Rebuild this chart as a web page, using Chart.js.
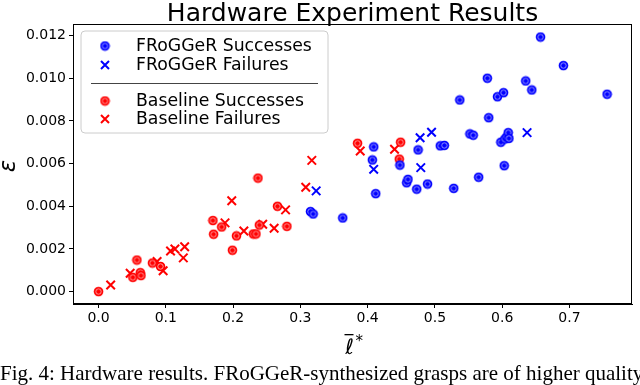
<!DOCTYPE html>
<html>
<head>
<meta charset="utf-8">
<script src="https://cdn.jsdelivr.net/npm/chart.js@4.4.0/dist/chart.umd.min.js"></script>
<style>
  html, body { margin: 0; padding: 0; background: #fff; }
  #wrap { position: relative; width: 640px; height: 385px; overflow: hidden; }
  #caption {
    position: absolute; left: 0; top: 363px; white-space: nowrap; line-height: 21px;
    font-family: "Liberation Serif", serif; font-size: 21px; color: #000;
  }
</style>
</head>
<body>
<div id="wrap">
  <canvas id="chart" width="640" height="385"></canvas>
  <div id="caption">Fig. 4: Hardware results. FRoGGeR-synthesized grasps are of higher quality</div>
</div>
<script>
// values
const xTicks = [0.0, 0.1, 0.2, 0.3, 0.4, 0.5, 0.6, 0.7];
const yTicks = [0.000, 0.002, 0.004, 0.006, 0.008, 0.010, 0.012];

const froggerSuccessX = [0.315, 0.319, 0.363, 0.407, 0.409, 0.412, 0.448, 0.458, 0.460, 0.473, 0.475, 0.489,
  0.508, 0.514, 0.528, 0.537, 0.552, 0.557, 0.565, 0.578, 0.580, 0.593, 0.598, 0.602, 0.603, 0.604,
  0.607, 0.609, 0.610, 0.635, 0.644, 0.657, 0.691, 0.756];
const froggerSuccessY = [0.00375, 0.00364, 0.00345, 0.00617, 0.00678, 0.00459, 0.00593, 0.0051, 0.00526, 0.0048, 0.00664, 0.00504,
  0.00683, 0.00685, 0.00484, 0.00898, 0.00739, 0.00733, 0.00536, 0.0100, 0.00815, 0.00913, 0.0070, 0.00932, 0.0059, 0.00715,
  0.00726, 0.00745, 0.00718, 0.00987, 0.00945, 0.01193, 0.01059, 0.00925];

const froggerFailX = [0.3235, 0.409, 0.478, 0.479, 0.495, 0.637];
const froggerFailY = [0.00472, 0.00573, 0.00721, 0.00581, 0.00747, 0.00745];

const baselineSuccessX = [0.0, 0.051, 0.062, 0.063, 0.057, 0.080, 0.092, 0.170, 0.171, 0.183, 0.199, 0.205,
  0.230, 0.234, 0.237, 0.239, 0.266, 0.280, 0.385, 0.447, 0.449];
const baselineSuccessY = [0.0, 0.00067, 0.00089, 0.00075, 0.00148, 0.00134, 0.00118, 0.00333, 0.00269, 0.00303, 0.00194, 0.00261,
  0.0027, 0.0027, 0.00532, 0.00312, 0.0040, 0.00306, 0.00695, 0.00621, 0.0070];

const baselineFailX = [0.018, 0.047, 0.087, 0.096, 0.107, 0.1135, 0.126, 0.128, 0.188, 0.198, 0.216, 0.244,
  0.261, 0.278, 0.308, 0.317, 0.389, 0.440];
const baselineFailY = [0.00031, 0.00086, 0.00141, 0.00098, 0.0019, 0.0020, 0.00158, 0.0021, 0.00322, 0.00426, 0.00284, 0.00316,
  0.00297, 0.00383, 0.00489, 0.00615, 0.00659, 0.00667];

function pts(xs, ys) {
  return xs.map((x, i) => ({ x: x, y: ys[i] }));
}

// round marker with a lighter ring, like the original
function makeDot(color, ring) {
  const c = document.createElement('canvas');
  c.width = 11; c.height = 11;
  const g = c.getContext('2d');
  g.fillStyle = color;
  g.beginPath(); g.arc(5.5, 5.5, 4.8, 0, Math.PI * 2); g.fill();
  g.strokeStyle = ring; g.lineWidth = 0.9;
  g.beginPath(); g.arc(5.5, 5.5, 2.7, 0, Math.PI * 2); g.stroke();
  return c;
}
const blueDot = makeDot('#0000ff', 'rgba(170,170,255,0.95)');
const redDot = makeDot('#ff0000', 'rgba(255,175,175,0.95)');

const FONT = '"DejaVu Sans", sans-serif';

const extras = {
  id: 'extras',
  afterDraw(chart) {
    const ctx = chart.ctx;
    const a = chart.chartArea;
    ctx.save();
    // top and right spines
    ctx.strokeStyle = '#000';
    ctx.lineWidth = 1;
    ctx.strokeRect(a.left + 0.5, a.top + 0.5, a.right - a.left - 1, a.bottom - a.top - 1);

    // title
    ctx.fillStyle = '#000';
    ctx.font = '25px ' + FONT;
    ctx.textAlign = 'center';
    ctx.textBaseline = 'alphabetic';
    ctx.fillText('Hardware Experiment Results', (a.left + a.right) / 2, 21);

    // x label
    const cx = (a.left + a.right) / 2;
    ctx.font = 'italic 21px ' + FONT;
    ctx.textAlign = 'center';
    ctx.fillText('\u2113', cx - 3, 354);
    ctx.fillRect(cx - 8, 334, 9, 1.3);
    ctx.font = '15px ' + FONT;
    ctx.textAlign = 'left';
    ctx.fillText('*', cx + 3, 346);

    // y label
    ctx.save();
    ctx.translate(15, 166);
    ctx.rotate(-Math.PI / 2);
    ctx.font = 'italic 23px ' + FONT;
    ctx.textAlign = 'center';
    ctx.fillText('\u03b5', 0, 0);
    ctx.restore();

    // legend
    const bx = 81, by = 31, bw = 247, bh = 102, r = 4;
    ctx.beginPath();
    ctx.moveTo(bx + r, by);
    ctx.arcTo(bx + bw, by, bx + bw, by + bh, r);
    ctx.arcTo(bx + bw, by + bh, bx, by + bh, r);
    ctx.arcTo(bx, by + bh, bx, by, r);
    ctx.arcTo(bx, by, bx + bw, by, r);
    ctx.closePath();
    ctx.fillStyle = 'rgba(255,255,255,0.8)';
    ctx.fill();
    ctx.strokeStyle = '#cccccc';
    ctx.lineWidth = 1;
    ctx.stroke();

    const rows = [
      { y: 46, kind: 'dot', img: blueDot, color: '#0000ff', text: 'FRoGGeR Successes' },
      { y: 65, kind: 'x', color: '#0000ff', text: 'FRoGGeR Failures' },
      { y: 101, kind: 'dot', img: redDot, color: '#ff0000', text: 'Baseline Successes' },
      { y: 119, kind: 'x', color: '#ff0000', text: 'Baseline Failures' }
    ];
    rows.forEach(row => {
      if (row.kind === 'dot') {
        ctx.drawImage(row.img, 105 - 5.5, row.y - 5.5);
      } else {
        ctx.strokeStyle = row.color;
        ctx.lineWidth = 2;
        ctx.beginPath();
        ctx.moveTo(101, row.y - 4); ctx.lineTo(109, row.y + 4);
        ctx.moveTo(101, row.y + 4); ctx.lineTo(109, row.y - 4);
        ctx.stroke();
      }
      ctx.fillStyle = '#000';
      ctx.font = '17.3px ' + FONT;
      ctx.textAlign = 'left';
      ctx.textBaseline = 'middle';
      ctx.fillText(row.text, 136, row.y + 1);
    });
    ctx.strokeStyle = '#444';
    ctx.lineWidth = 1;
    ctx.beginPath();
    ctx.moveTo(91, 83.5); ctx.lineTo(318, 83.5);
    ctx.stroke();
    ctx.restore();
  }
};

const ctx = document.getElementById('chart').getContext('2d');
new Chart(ctx, {
  type: 'scatter',
  data: {
    datasets: [
      { label: 'FRoGGeR Successes', data: pts(froggerSuccessX, froggerSuccessY), pointStyle: blueDot },
      { label: 'FRoGGeR Failures', data: pts(froggerFailX, froggerFailY), pointStyle: 'crossRot',
        pointRadius: 6, borderColor: '#0000ff', borderWidth: 2 },
      { label: 'Baseline Successes', data: pts(baselineSuccessX, baselineSuccessY), pointStyle: redDot },
      { label: 'Baseline Failures', data: pts(baselineFailX, baselineFailY), pointStyle: 'crossRot',
        pointRadius: 6, borderColor: '#ff0000', borderWidth: 2 }
    ]
  },
  options: {
    responsive: false,
    animation: false,
    devicePixelRatio: 1,
    layout: { padding: { left: 0, top: 24, right: 3, bottom: 0 } },
    plugins: { legend: { display: false }, tooltip: { enabled: false } },
    scales: {
      x: {
        type: 'linear',
        min: -0.038,
        max: 0.793,
        afterBuildTicks: scale => { scale.ticks = xTicks.map(v => ({ value: v })); },
        afterFit: scale => { scale.height = 81; },
        ticks: { color: '#000', font: { family: FONT, size: 14 }, padding: 2,
          callback: v => v.toFixed(1) },
        grid: { drawOnChartArea: false, drawTicks: true, tickLength: 4, color: '#000' },
        border: { display: true, color: '#000', width: 1 }
      },
      y: {
        type: 'linear',
        min: -0.00058,
        max: 0.01254,
        afterBuildTicks: scale => { scale.ticks = yTicks.map(v => ({ value: v })); },
        afterFit: scale => { scale.width = 73; },
        ticks: { color: '#000', font: { family: FONT, size: 14 }, padding: 3,
          callback: v => v.toFixed(3) },
        grid: { drawOnChartArea: false, drawTicks: true, tickLength: 4, color: '#000' },
        border: { display: true, color: '#000', width: 1 }
      }
    }
  },
  plugins: [extras]
});
</script>
</body>
</html>
